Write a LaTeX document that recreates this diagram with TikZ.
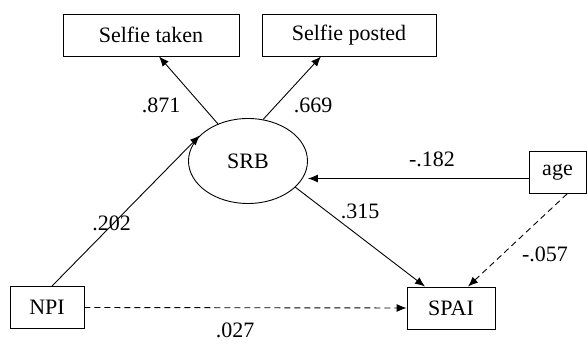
\documentclass[tikz,border=0pt]{standalone}
\usepackage{fontspec}
\setmainfont{Liberation Serif}
\usetikzlibrary{arrows.meta,positioning,shapes.geometric}

\begin{document}
\begin{tikzpicture}[x=1pt,y=-1pt,>={Latex[length=10pt,width=8pt]},
                    line width=0.9pt,font=\fontsize{22}{26}\selectfont,
                    obs node/.style={rectangle,draw,minimum height=42pt,inner sep=0pt},
                    lat node/.style={ellipse,draw,minimum width=119pt,minimum height=85pt,inner sep=0pt},
                    coef/.style={inner sep=0pt},
                    dashline/.style={dash pattern=on 6pt off 4pt}]

  \useasboundingbox (0,0) rectangle (587,344);

  \node[obs node,minimum width=176pt] (taken) at (151,35) {Selfie taken};
  \node[obs node,minimum width=174pt] (posted) at (349,35) {Selfie posted};
  \node[lat node] (srb) at (248,161) {SRB};
  \node[obs node,minimum width=57pt] (age) at (557.5,172.5) {age};
  \node[obs node,minimum width=74pt] (npi) at (47,307.5) {NPI};
  \node[obs node,minimum width=88pt] (spai) at (451,308) {SPAI};

  \path[->]
    (srb.129) edge ([xshift=8pt]taken.south)
    (srb.70) edge ([xshift=-28pt]posted.south)
    (srb.-29) edge ([xshift=-26pt]spai.north)
    ([xshift=5pt]npi.north) edge (srb.152)
    ([yshift=-6pt]age.west) edge ([yshift=-6pt]age.west -| srb.east);

  \path[->,dashline]
    (npi.east) edge (spai.west)
    ([xshift=9.5pt]age.south) edge ([xshift=17pt]spai.north);

  \node[coef] (c1) at (161,105) {.871};
  \node[coef] (c2) at (313,105) {.669};
  \node[coef] (c3) at (432,159.5) {-.182};
  \node[coef] (c4) at (360,211) {.315};
  \node[coef] (c5) at (545,254) {-.057};
  \node[coef] (c6) at (111.5,223.5) {.202};
  \node[coef] (c7) at (235,330) {.027};
\end{tikzpicture}
\end{document}
